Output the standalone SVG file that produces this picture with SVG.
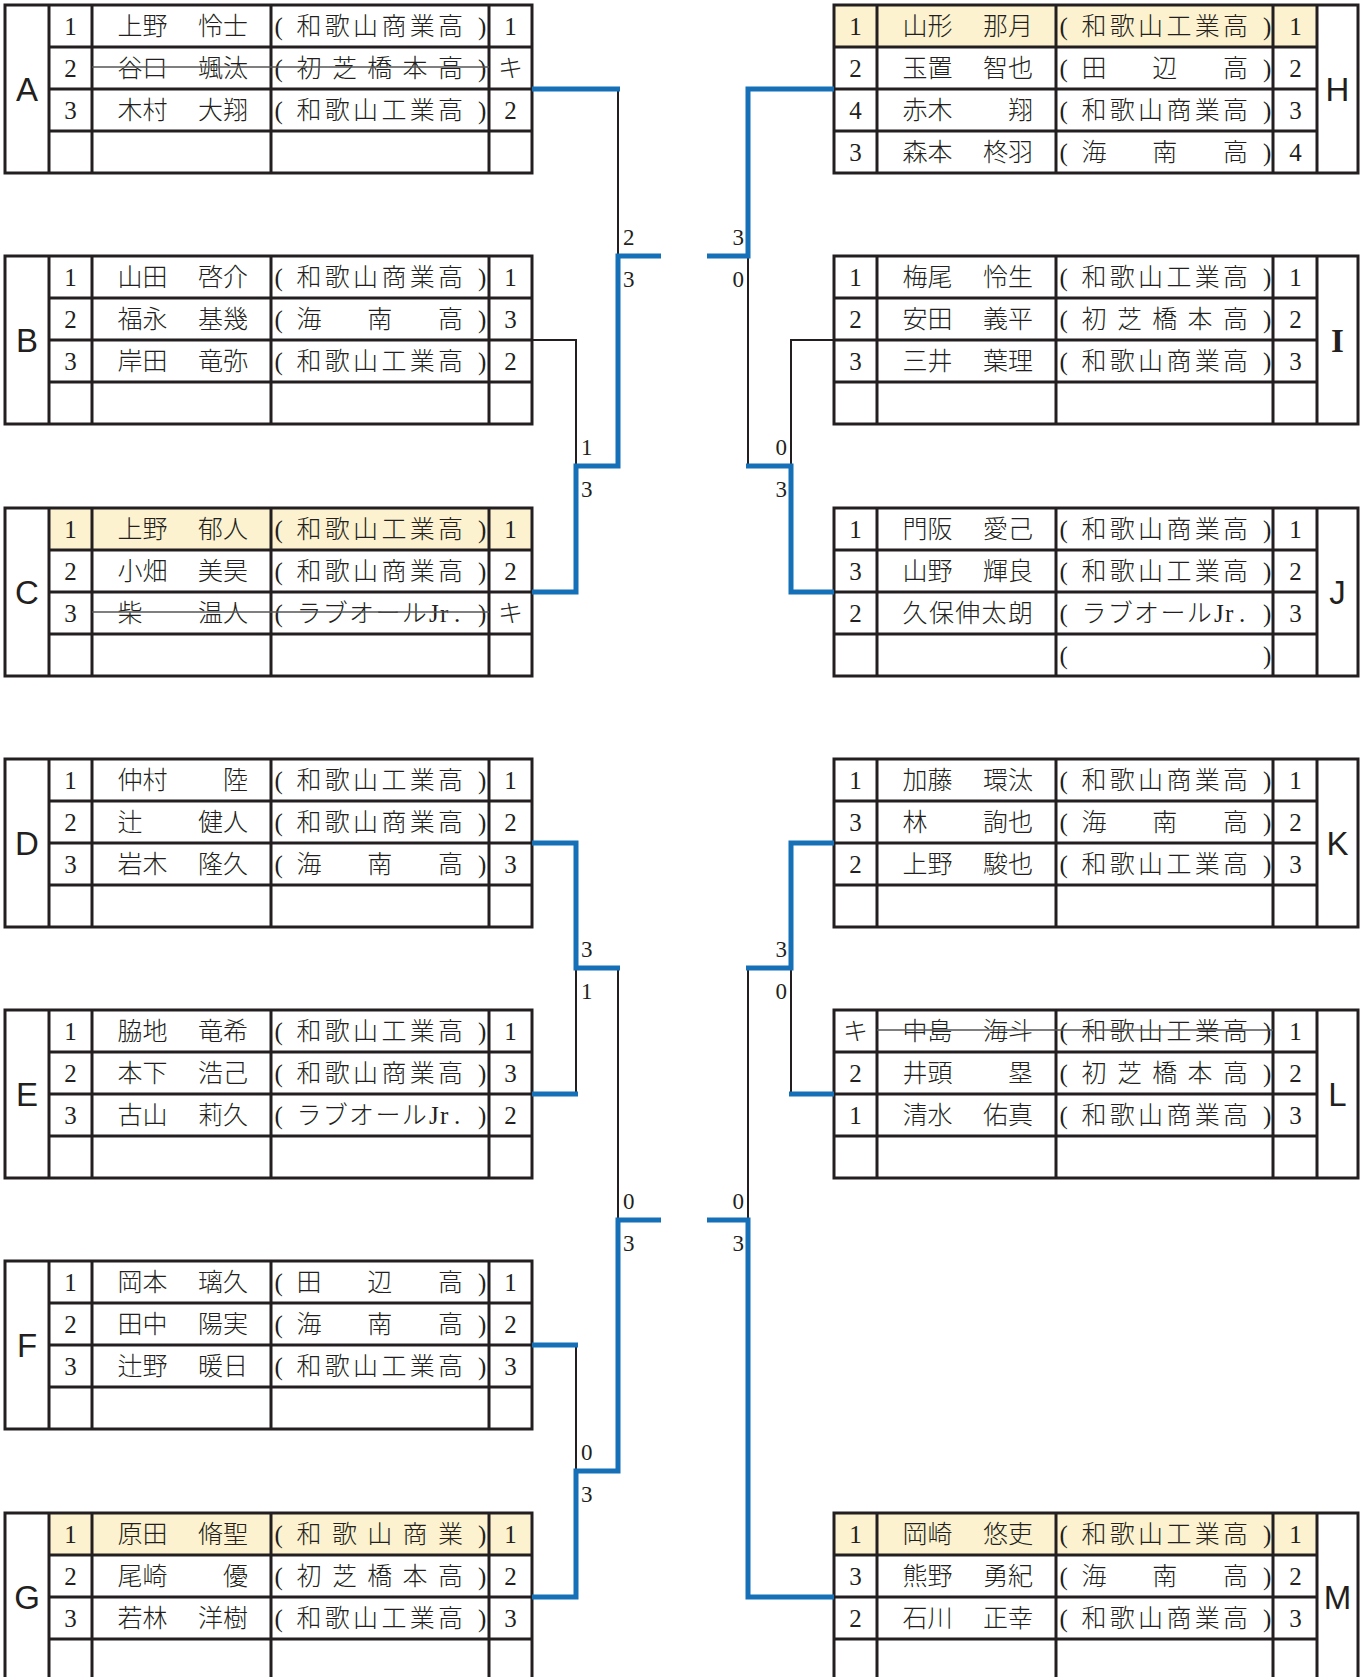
<svg xmlns="http://www.w3.org/2000/svg" width="1367" height="1677" viewBox="0 0 1367 1677">
<style>
.f{fill:none;stroke:#231f20;stroke-width:3}
.hl{fill:#fcf2cf}
.t{font-family:"Liberation Serif","Noto Sans CJK JP",serif;font-size:25px;fill:#231f20;font-weight:300}
.c{text-anchor:middle}
.lt{font-family:"Liberation Sans",sans-serif;font-size:33px;text-anchor:middle;fill:#231f20}
.ls{font-family:"Liberation Serif",serif;font-size:33px;text-anchor:middle;fill:#231f20;font-weight:bold}
.s{stroke:#555;stroke-width:1.5}
.bk{fill:none;stroke:#231f20;stroke-width:2}
.bl{fill:none;stroke:#1570b8;stroke-width:5;stroke-linejoin:miter}
.sc{font-family:"Liberation Serif",serif;font-size:23px;fill:#231f20}
.e{text-anchor:end}
</style>
<rect width="1367" height="1677" fill="#fff"/>

<g id="table-A">
<rect class="f" x="5" y="5" width="527" height="168"/>
<path class="f" d="M49 5V173M92 5V173M271 5V173M489 5V173M49 47H532M49 89H532M49 131H532"/>
<text class="lt" x="27" y="101">A</text>
<text class="t c" x="70.5" y="35">1</text><text class="t" x="117.5 142.5 170 198 223" y="35">上野　怜士</text><text class="t" x="274.5 296.5 324.8 353.1 381.4 409.7 438 478" y="35">(和歌山商業高)</text><text class="t c" x="510.5" y="35">1</text>
<text class="t c" x="70.5" y="77">2</text><text class="t" x="117.5 142.5 170 198 223" y="77">谷口　颯汰</text><text class="t" x="274.5 296.5 331.9 367.3 402.6 438 478" y="77">(初芝橋本高)</text><text class="t c" x="510.5" y="77">キ</text>
<path class="s" d="M92 67H489"/>
<text class="t c" x="70.5" y="119">3</text><text class="t" x="117.5 142.5 170 198 223" y="119">木村　大翔</text><text class="t" x="274.5 296.5 324.8 353.1 381.4 409.7 438 478" y="119">(和歌山工業高)</text><text class="t c" x="510.5" y="119">2</text>
</g>

<g id="table-B">
<rect class="f" x="5" y="256" width="527" height="168"/>
<path class="f" d="M49 256V424M92 256V424M271 256V424M489 256V424M49 298H532M49 340H532M49 382H532"/>
<text class="lt" x="27" y="352">B</text>
<text class="t c" x="70.5" y="286">1</text><text class="t" x="117.5 142.5 170 198 223" y="286">山田　啓介</text><text class="t" x="274.5 296.5 324.8 353.1 381.4 409.7 438 478" y="286">(和歌山商業高)</text><text class="t c" x="510.5" y="286">1</text>
<text class="t c" x="70.5" y="328">2</text><text class="t" x="117.5 142.5 170 198 223" y="328">福永　基幾</text><text class="t" x="274.5 296.5 367.3 438 478" y="328">(海南高)</text><text class="t c" x="510.5" y="328">3</text>
<text class="t c" x="70.5" y="370">3</text><text class="t" x="117.5 142.5 170 198 223" y="370">岸田　竜弥</text><text class="t" x="274.5 296.5 324.8 353.1 381.4 409.7 438 478" y="370">(和歌山工業高)</text><text class="t c" x="510.5" y="370">2</text>
</g>

<g id="table-C">
<rect class="hl" x="49" y="508" width="483" height="42"/>
<rect class="f" x="5" y="508" width="527" height="168"/>
<path class="f" d="M49 508V676M92 508V676M271 508V676M489 508V676M49 550H532M49 592H532M49 634H532"/>
<text class="lt" x="27" y="604">C</text>
<text class="t c" x="70.5" y="538">1</text><text class="t" x="117.5 142.5 170 198 223" y="538">上野　郁人</text><text class="t" x="274.5 296.5 324.8 353.1 381.4 409.7 438 478" y="538">(和歌山工業高)</text><text class="t c" x="510.5" y="538">1</text>
<text class="t c" x="70.5" y="580">2</text><text class="t" x="117.5 142.5 170 198 223" y="580">小畑　美昊</text><text class="t" x="274.5 296.5 324.8 353.1 381.4 409.7 438 478" y="580">(和歌山商業高)</text><text class="t c" x="510.5" y="580">2</text>
<text class="t c" x="70.5" y="622">3</text><text class="t" x="117.5 142.5 170 198 223" y="622">柴　　温人</text><text class="t" x="274.5 296.5 322.8 349.1 375.4 401.7 429 440 454 478" y="622">(ラブオールJr.)</text><text class="t c" x="510.5" y="622">キ</text>
<path class="s" d="M92 612H489"/>
</g>

<g id="table-D">
<rect class="f" x="5" y="759" width="527" height="168"/>
<path class="f" d="M49 759V927M92 759V927M271 759V927M489 759V927M49 801H532M49 843H532M49 885H532"/>
<text class="lt" x="27" y="855">D</text>
<text class="t c" x="70.5" y="789">1</text><text class="t" x="117.5 142.5 170 198 223" y="789">仲村　　陸</text><text class="t" x="274.5 296.5 324.8 353.1 381.4 409.7 438 478" y="789">(和歌山工業高)</text><text class="t c" x="510.5" y="789">1</text>
<text class="t c" x="70.5" y="831">2</text><text class="t" x="117.5 142.5 170 198 223" y="831">辻　　健人</text><text class="t" x="274.5 296.5 324.8 353.1 381.4 409.7 438 478" y="831">(和歌山商業高)</text><text class="t c" x="510.5" y="831">2</text>
<text class="t c" x="70.5" y="873">3</text><text class="t" x="117.5 142.5 170 198 223" y="873">岩木　隆久</text><text class="t" x="274.5 296.5 367.3 438 478" y="873">(海南高)</text><text class="t c" x="510.5" y="873">3</text>
</g>

<g id="table-E">
<rect class="f" x="5" y="1010" width="527" height="168"/>
<path class="f" d="M49 1010V1178M92 1010V1178M271 1010V1178M489 1010V1178M49 1052H532M49 1094H532M49 1136H532"/>
<text class="lt" x="27" y="1106">E</text>
<text class="t c" x="70.5" y="1040">1</text><text class="t" x="117.5 142.5 170 198 223" y="1040">脇地　竜希</text><text class="t" x="274.5 296.5 324.8 353.1 381.4 409.7 438 478" y="1040">(和歌山工業高)</text><text class="t c" x="510.5" y="1040">1</text>
<text class="t c" x="70.5" y="1082">2</text><text class="t" x="117.5 142.5 170 198 223" y="1082">本下　浩己</text><text class="t" x="274.5 296.5 324.8 353.1 381.4 409.7 438 478" y="1082">(和歌山商業高)</text><text class="t c" x="510.5" y="1082">3</text>
<text class="t c" x="70.5" y="1124">3</text><text class="t" x="117.5 142.5 170 198 223" y="1124">古山　莉久</text><text class="t" x="274.5 296.5 322.8 349.1 375.4 401.7 429 440 454 478" y="1124">(ラブオールJr.)</text><text class="t c" x="510.5" y="1124">2</text>
</g>

<g id="table-F">
<rect class="f" x="5" y="1261" width="527" height="168"/>
<path class="f" d="M49 1261V1429M92 1261V1429M271 1261V1429M489 1261V1429M49 1303H532M49 1345H532M49 1387H532"/>
<text class="lt" x="27" y="1357">F</text>
<text class="t c" x="70.5" y="1291">1</text><text class="t" x="117.5 142.5 170 198 223" y="1291">岡本　璃久</text><text class="t" x="274.5 296.5 367.3 438 478" y="1291">(田辺高)</text><text class="t c" x="510.5" y="1291">1</text>
<text class="t c" x="70.5" y="1333">2</text><text class="t" x="117.5 142.5 170 198 223" y="1333">田中　陽実</text><text class="t" x="274.5 296.5 367.3 438 478" y="1333">(海南高)</text><text class="t c" x="510.5" y="1333">2</text>
<text class="t c" x="70.5" y="1375">3</text><text class="t" x="117.5 142.5 170 198 223" y="1375">辻野　暖日</text><text class="t" x="274.5 296.5 324.8 353.1 381.4 409.7 438 478" y="1375">(和歌山工業高)</text><text class="t c" x="510.5" y="1375">3</text>
</g>

<g id="table-G">
<rect class="hl" x="49" y="1513" width="483" height="42"/>
<rect class="f" x="5" y="1513" width="527" height="168"/>
<path class="f" d="M49 1513V1681M92 1513V1681M271 1513V1681M489 1513V1681M49 1555H532M49 1597H532M49 1639H532"/>
<text class="lt" x="27" y="1609">G</text>
<text class="t c" x="70.5" y="1543">1</text><text class="t" x="117.5 142.5 170 198 223" y="1543">原田　脩聖</text><text class="t" x="274.5 296.5 331.9 367.3 402.6 438 478" y="1543">(和歌山商業)</text><text class="t c" x="510.5" y="1543">1</text>
<text class="t c" x="70.5" y="1585">2</text><text class="t" x="117.5 142.5 170 198 223" y="1585">尾崎　　優</text><text class="t" x="274.5 296.5 331.9 367.3 402.6 438 478" y="1585">(初芝橋本高)</text><text class="t c" x="510.5" y="1585">2</text>
<text class="t c" x="70.5" y="1627">3</text><text class="t" x="117.5 142.5 170 198 223" y="1627">若林　洋樹</text><text class="t" x="274.5 296.5 324.8 353.1 381.4 409.7 438 478" y="1627">(和歌山工業高)</text><text class="t c" x="510.5" y="1627">3</text>
</g>

<g id="table-H">
<rect class="hl" x="834" y="5" width="483" height="42"/>
<rect class="f" x="834" y="5" width="524" height="168"/>
<path class="f" d="M877 5V173M1056 5V173M1273 5V173M1317 5V173M834 47H1317M834 89H1317M834 131H1317"/>
<text class="lt" x="1337.5" y="101">H</text>
<text class="t c" x="855.5" y="35">1</text><text class="t" x="902.5 927.5 955 983 1008" y="35">山形　那月</text><text class="t" x="1059.5 1081.5 1109.8 1138.1 1166.4 1194.7 1223 1263" y="35">(和歌山工業高)</text><text class="t c" x="1295.5" y="35">1</text>
<text class="t c" x="855.5" y="77">2</text><text class="t" x="902.5 927.5 955 983 1008" y="77">玉置　智也</text><text class="t" x="1059.5 1081.5 1152.3 1223 1263" y="77">(田辺高)</text><text class="t c" x="1295.5" y="77">2</text>
<text class="t c" x="855.5" y="119">4</text><text class="t" x="902.5 927.5 955 983 1008" y="119">赤木　　翔</text><text class="t" x="1059.5 1081.5 1109.8 1138.1 1166.4 1194.7 1223 1263" y="119">(和歌山商業高)</text><text class="t c" x="1295.5" y="119">3</text>
<text class="t c" x="855.5" y="161">3</text><text class="t" x="902.5 927.5 955 983 1008" y="161">森本　柊羽</text><text class="t" x="1059.5 1081.5 1152.3 1223 1263" y="161">(海南高)</text><text class="t c" x="1295.5" y="161">4</text>
</g>

<g id="table-I">
<rect class="f" x="834" y="256" width="524" height="168"/>
<path class="f" d="M877 256V424M1056 256V424M1273 256V424M1317 256V424M834 298H1317M834 340H1317M834 382H1317"/>
<text class="ls" x="1337.5" y="352">I</text>
<text class="t c" x="855.5" y="286">1</text><text class="t" x="902.5 927.5 955 983 1008" y="286">梅尾　怜生</text><text class="t" x="1059.5 1081.5 1109.8 1138.1 1166.4 1194.7 1223 1263" y="286">(和歌山工業高)</text><text class="t c" x="1295.5" y="286">1</text>
<text class="t c" x="855.5" y="328">2</text><text class="t" x="902.5 927.5 955 983 1008" y="328">安田　義平</text><text class="t" x="1059.5 1081.5 1116.9 1152.3 1187.6 1223 1263" y="328">(初芝橋本高)</text><text class="t c" x="1295.5" y="328">2</text>
<text class="t c" x="855.5" y="370">3</text><text class="t" x="902.5 927.5 955 983 1008" y="370">三井　葉理</text><text class="t" x="1059.5 1081.5 1109.8 1138.1 1166.4 1194.7 1223 1263" y="370">(和歌山商業高)</text><text class="t c" x="1295.5" y="370">3</text>
</g>

<g id="table-J">
<rect class="f" x="834" y="508" width="524" height="168"/>
<path class="f" d="M877 508V676M1056 508V676M1273 508V676M1317 508V676M834 550H1317M834 592H1317M834 634H1317"/>
<text class="lt" x="1337.5" y="604">J</text>
<text class="t c" x="855.5" y="538">1</text><text class="t" x="902.5 927.5 955 983 1008" y="538">門阪　愛己</text><text class="t" x="1059.5 1081.5 1109.8 1138.1 1166.4 1194.7 1223 1263" y="538">(和歌山商業高)</text><text class="t c" x="1295.5" y="538">1</text>
<text class="t c" x="855.5" y="580">3</text><text class="t" x="902.5 927.5 955 983 1008" y="580">山野　輝良</text><text class="t" x="1059.5 1081.5 1109.8 1138.1 1166.4 1194.7 1223 1263" y="580">(和歌山工業高)</text><text class="t c" x="1295.5" y="580">2</text>
<text class="t c" x="855.5" y="622">2</text><text class="t" x="902.5 928.9 955.3 981.6 1008" y="622">久保伸太朗</text><text class="t" x="1059.5 1081.5 1107.8 1134.1 1160.4 1186.7 1214 1225 1239 1263" y="622">(ラブオールJr.)</text><text class="t c" x="1295.5" y="622">3</text>
<text class="t" x="1059.5 1263" y="664">()</text>
</g>

<g id="table-K">
<rect class="f" x="834" y="759" width="524" height="168"/>
<path class="f" d="M877 759V927M1056 759V927M1273 759V927M1317 759V927M834 801H1317M834 843H1317M834 885H1317"/>
<text class="lt" x="1337.5" y="855">K</text>
<text class="t c" x="855.5" y="789">1</text><text class="t" x="902.5 927.5 955 983 1008" y="789">加藤　環汰</text><text class="t" x="1059.5 1081.5 1109.8 1138.1 1166.4 1194.7 1223 1263" y="789">(和歌山商業高)</text><text class="t c" x="1295.5" y="789">1</text>
<text class="t c" x="855.5" y="831">3</text><text class="t" x="902.5 927.5 955 983 1008" y="831">林　　詢也</text><text class="t" x="1059.5 1081.5 1152.3 1223 1263" y="831">(海南高)</text><text class="t c" x="1295.5" y="831">2</text>
<text class="t c" x="855.5" y="873">2</text><text class="t" x="902.5 927.5 955 983 1008" y="873">上野　駿也</text><text class="t" x="1059.5 1081.5 1109.8 1138.1 1166.4 1194.7 1223 1263" y="873">(和歌山工業高)</text><text class="t c" x="1295.5" y="873">3</text>
</g>

<g id="table-L">
<rect class="f" x="834" y="1010" width="524" height="168"/>
<path class="f" d="M877 1010V1178M1056 1010V1178M1273 1010V1178M1317 1010V1178M834 1052H1317M834 1094H1317M834 1136H1317"/>
<text class="lt" x="1337.5" y="1106">L</text>
<text class="t c" x="855.5" y="1040">キ</text><text class="t" x="902.5 927.5 955 983 1008" y="1040">中島　海斗</text><text class="t" x="1059.5 1081.5 1109.8 1138.1 1166.4 1194.7 1223 1263" y="1040">(和歌山工業高)</text><text class="t c" x="1295.5" y="1040">1</text>
<path class="s" d="M877 1030H1273"/>
<text class="t c" x="855.5" y="1082">2</text><text class="t" x="902.5 927.5 955 983 1008" y="1082">井頭　　塁</text><text class="t" x="1059.5 1081.5 1116.9 1152.3 1187.6 1223 1263" y="1082">(初芝橋本高)</text><text class="t c" x="1295.5" y="1082">2</text>
<text class="t c" x="855.5" y="1124">1</text><text class="t" x="902.5 927.5 955 983 1008" y="1124">清水　佑真</text><text class="t" x="1059.5 1081.5 1109.8 1138.1 1166.4 1194.7 1223 1263" y="1124">(和歌山商業高)</text><text class="t c" x="1295.5" y="1124">3</text>
</g>

<g id="table-M">
<rect class="hl" x="834" y="1513" width="483" height="42"/>
<rect class="f" x="834" y="1513" width="524" height="168"/>
<path class="f" d="M877 1513V1681M1056 1513V1681M1273 1513V1681M1317 1513V1681M834 1555H1317M834 1597H1317M834 1639H1317"/>
<text class="lt" x="1337.5" y="1609">M</text>
<text class="t c" x="855.5" y="1543">1</text><text class="t" x="902.5 927.5 955 983 1008" y="1543">岡崎　悠吏</text><text class="t" x="1059.5 1081.5 1109.8 1138.1 1166.4 1194.7 1223 1263" y="1543">(和歌山工業高)</text><text class="t c" x="1295.5" y="1543">1</text>
<text class="t c" x="855.5" y="1585">3</text><text class="t" x="902.5 927.5 955 983 1008" y="1585">熊野　勇紀</text><text class="t" x="1059.5 1081.5 1152.3 1223 1263" y="1585">(海南高)</text><text class="t c" x="1295.5" y="1585">2</text>
<text class="t c" x="855.5" y="1627">2</text><text class="t" x="902.5 927.5 955 983 1008" y="1627">石川　正幸</text><text class="t" x="1059.5 1081.5 1109.8 1138.1 1166.4 1194.7 1223 1263" y="1627">(和歌山商業高)</text><text class="t c" x="1295.5" y="1627">3</text>
</g>

<g id="connectors">
<path class="bk" d="M618 89V256M532 340H576V466M834 340H791V466M748 466V256M576 1094V968M618 968V1220M576 1345V1471M791 1094V968M748 968V1220"/>
<path class="bl" d="M532 89H620"/>
<path class="bl" d="M532 592H576V466H618V256H661"/>
<path class="bl" d="M834 89H748V256H707"/>
<path class="bl" d="M834 592H791V466H746"/>
<path class="bl" d="M532 843H576V968H620"/>
<path class="bl" d="M532 1094H578"/>
<path class="bl" d="M532 1345H578"/>
<path class="bl" d="M532 1597H576V1471H618V1220H661"/>
<path class="bl" d="M834 843H791V968H746"/>
<path class="bl" d="M834 1094H789"/>
<path class="bl" d="M834 1597H748V1220H707"/>
<text class="sc" x="623" y="245">2</text>
<text class="sc" x="623" y="287">3</text>
<text class="sc" x="581" y="455">1</text>
<text class="sc" x="581" y="497">3</text>
<text class="sc" x="581" y="957">3</text>
<text class="sc" x="581" y="999">1</text>
<text class="sc" x="623" y="1209">0</text>
<text class="sc" x="623" y="1251">3</text>
<text class="sc" x="581" y="1460">0</text>
<text class="sc" x="581" y="1502">3</text>
<text class="sc e" x="744" y="245">3</text>
<text class="sc e" x="744" y="287">0</text>
<text class="sc e" x="787" y="455">0</text>
<text class="sc e" x="787" y="497">3</text>
<text class="sc e" x="787" y="957">3</text>
<text class="sc e" x="787" y="999">0</text>
<text class="sc e" x="744" y="1209">0</text>
<text class="sc e" x="744" y="1251">3</text>
</g>
</svg>
